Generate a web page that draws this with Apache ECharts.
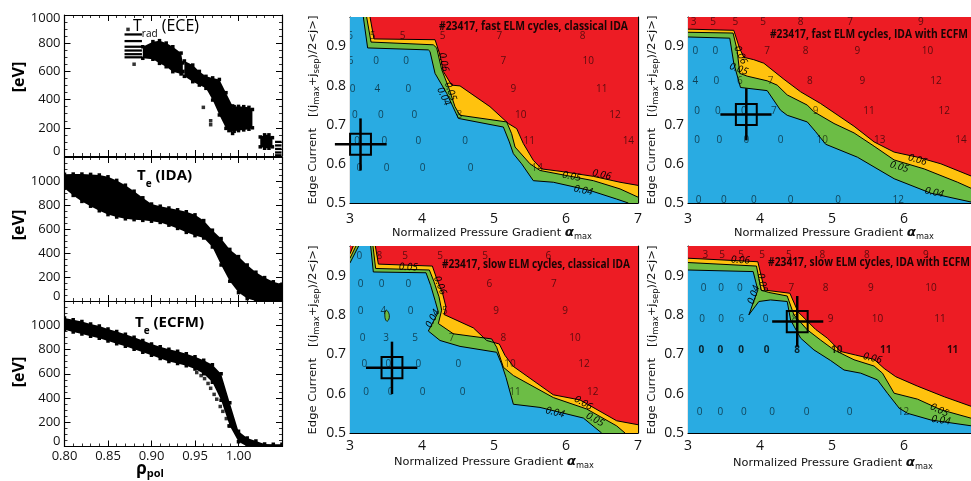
<!DOCTYPE html>
<html><head><meta charset="utf-8">
<script src="https://cdn.jsdelivr.net/npm/echarts@6/dist/echarts.min.js"></script>
<style>html,body{margin:0;padding:0;background:#fff}#c{width:971px;height:481px}</style>
</head><body><div id="c"></div>
<script>
// ================= DATA =================
// Left column: rho_pol grid and envelopes of the dense point clouds (eV)
const rhoGrid = [0.80,0.81,0.82,0.83,0.84,0.85,0.86,0.87,0.88,0.89,0.90,0.91,0.92,0.93,0.94,0.95,0.96,0.97,0.98,0.99,1.00,1.01,1.02,1.03,1.04,1.05];
const idaHi  = [1056,1058,1058,1055,1050,1035,1005,965,915,860,808,790,775,760,744,718,670,590,520,430,370,300,240,195,160,140];
const idaLo  = [940,880,830,790,752,720,700,685,678,672,665,655,632,605,572,545,525,450,300,165,70,20,0,0,0,0];
const ecfmHi = [1060,1045,1030,1010,993,970,948,925,902,875,845,822,803,785,765,740,712,675,600,360,126,70,45,20,18,18];
const ecfmLo = [963,945,927,909,892,870,848,826,802,778,752,725,702,685,665,640,600,530,381,170,40,0,0,0,0,0];
const ecfmTrace = [[0.952,610],[0.957,585],[0.961,560],[0.965,520],[0.968,480],[0.972,430],[0.975,390],[0.979,330],[0.982,290],[0.986,230],[0.989,170]];
// ECE radiation temperature clusters (null separates clusters)
const eceX  = [0.890,0.9016,0.9092,0.9169,0.9245,0.934,0.936,null,0.9378,0.9474,0.955,0.9626,0.9703,0.978,0.9856,0.9932,null,0.989,0.995,1.0,1.006,1.012,1.016,null,1.025,1.03,1.035,1.039];
const eceHi = [775,811,818,801,775,730,660,null,674,645,600,565,554,543,449,355,null,330,350,352,350,345,330,null,135,150,150,130];
const eceLo = [693,686,657,633,598,582,600,null,565,527,503,480,397,291,196,160,null,180,175,180,185,190,200,null,65,55,55,65];
const eceStripeX = [0.869,0.889];
const eceStripeY = [862,815,775,748,722,700];
const eceEdgeX = [1.042,1.0495];
const eceEdgeY = [100,75,50,25,5];
const eceStripeHalf = 8;
const eceDots = [[0.873,898],[0.880,651],[0.9596,345],[0.968,250],[0.968,222],[0.935,588],[0.94,600]];

// Contour panels: contour lines [alpha_max, edge current] for levels 0.06, 0.05, 0.04
const A_c06 = [[3.278,0.975],[3.333,0.919],[4.181,0.917],[4.25,0.878],[4.296,0.836],[4.412,0.801],[4.528,0.799],[4.944,0.746],[5.199,0.703],[5.315,0.690],[5.407,0.652],[5.546,0.609],[5.662,0.587],[5.917,0.581],[6.38,0.568],[6.75,0.553],[7.0,0.545]];
const A_c05 = [[3.231,0.975],[3.292,0.911],[4.157,0.904],[4.204,0.896],[4.273,0.841],[4.366,0.797],[4.458,0.746],[4.528,0.724],[5.176,0.707],[5.245,0.677],[5.292,0.643],[5.5,0.600],[5.639,0.583],[6.01,0.570],[6.38,0.557],[6.75,0.536],[7.0,0.515]];
const A_c04 = [[3.185,0.975],[3.245,0.896],[4.088,0.891],[4.111,0.887],[4.181,0.831],[4.343,0.780],[4.505,0.716],[5.13,0.694],[5.213,0.656],[5.269,0.626],[5.384,0.600],[5.546,0.557],[5.824,0.553],[6.333,0.532],[6.704,0.510],[6.866,0.5]];
const B_c06 = [[3.0,0.944],[3.636,0.941],[3.715,0.896],[3.775,0.872],[3.914,0.866],[4.053,0.857],[4.332,0.816],[4.564,0.784],[4.842,0.754],[5.306,0.696],[5.585,0.656],[5.863,0.630],[6.188,0.617],[6.513,0.600],[6.944,0.568],[7.0,0.565]];
const B_c05 = [[3.0,0.936],[3.626,0.934],[3.682,0.891],[3.719,0.831],[3.821,0.824],[4.10,0.812],[4.239,0.801],[4.378,0.776],[4.657,0.750],[4.749,0.733],[5.028,0.703],[5.306,0.679],[5.585,0.645],[5.863,0.610],[6.281,0.587],[6.745,0.553],[7.0,0.532]];
const B_c04 = [[3.0,0.924],[3.58,0.921],[3.636,0.857],[3.729,0.795],[4.10,0.787],[4.285,0.737],[4.378,0.724],[4.657,0.707],[4.773,0.682],[4.912,0.650],[5.353,0.617],[5.863,0.562],[6.374,0.525],[6.944,0.502],[7.0,0.5]];
const C_c06 = [[3.0,0.955],[3.046,0.975],null,[3.352,0.975],[3.394,0.929],[4.144,0.924],[4.204,0.892],[4.287,0.854],[4.333,0.820],[4.306,0.801],[4.713,0.767],[4.898,0.735],[5.074,0.726],[5.153,0.697],[5.269,0.669],[5.824,0.597],[6.194,0.584],[6.704,0.531],[7.0,0.521]];
const C_c05 = [[3.0,0.944],[3.083,0.975],null,[3.319,0.975],[3.356,0.918],[4.102,0.914],[4.167,0.884],[4.236,0.846],[4.273,0.812],[4.227,0.778],[4.435,0.752],[4.968,0.739],[5.037,0.718],[5.13,0.667],[5.269,0.646],[5.824,0.590],[6.287,0.561],[6.704,0.518],[6.82,0.5]];
const C_c04 = [[3.0,0.932],[3.12,0.975],null,[3.287,0.975],[3.324,0.909],[4.056,0.907],[4.12,0.875],[4.181,0.837],[4.227,0.807],[4.088,0.759],[4.25,0.735],[4.528,0.720],[5.037,0.705],[5.106,0.675],[5.167,0.641],[5.269,0.573],[5.639,0.565],[6.241,0.538],[6.495,0.5]];
const C_island04 = [[3.5,0.812],[3.546,0.799],[3.519,0.784],[3.486,0.793]];
const D_c06 = [[3.0,0.944],[3.970,0.935],[4.063,0.863],[4.415,0.855],[4.527,0.808],[4.773,0.763],[4.935,0.741],[5.121,0.707],[5.329,0.698],[5.585,0.687],[5.724,0.664],[5.886,0.643],[6.188,0.619],[6.559,0.592],[6.944,0.567],[7.0,0.563]];
const D_c05 = [[3.0,0.933],[3.951,0.924],[4.016,0.863],[4.123,0.857],[4.378,0.848],[4.471,0.80],[4.657,0.762],[4.842,0.736],[5.028,0.711],[5.306,0.686],[5.585,0.670],[5.701,0.652],[5.863,0.601],[6.188,0.586],[6.513,0.559],[6.944,0.537],[7.0,0.534]];
const D_c04 = [[3.0,0.914],[3.905,0.910],[3.970,0.863],[3.845,0.800],[3.984,0.834],[4.146,0.838],[4.378,0.834],[4.425,0.787],[4.564,0.741],[4.749,0.711],[4.981,0.684],[5.167,0.660],[5.399,0.652],[5.631,0.635],[5.770,0.601],[5.933,0.563],[6.049,0.550],[6.374,0.533],[6.944,0.518],[7.0,0.517]];

// Numbers printed on the stability grid: [alpha_max, edge current, value]
const A_nums = [[3.0,0.926,'6'],[3.315,0.926,'5'],[3.731,0.926,'5'],[4.287,0.926,'5'],[5.074,0.926,'7'],[6.231,0.926,'8'],
 [3.009,0.861,'6'],[3.361,0.861,'0'],[3.778,0.861,'0'],[5.13,0.861,'7'],[6.31,0.861,'10'],
 [3.037,0.790,'0'],[3.38,0.790,'4'],[3.81,0.790,'0'],[5.27,0.790,'9'],[6.495,0.790,'11'],
 [3.069,0.724,'0'],[3.43,0.724,'0'],[3.894,0.724,'0'],[4.519,0.724,'8'],[5.37,0.724,'10'],[6.68,0.724,'12'],
 [3.10,0.658,'0'],[3.477,0.658,'0'],[3.949,0.658,'0'],[4.597,0.658,'0'],[5.49,0.658,'11'],[6.866,0.658,'14'],
 [3.13,0.589,'0'],[3.509,0.589,'0'],[4.009,0.589,'0'],[4.676,0.589,'0'],[5.60,0.589,'14']];
const B_nums = [[3.079,0.961,'3'],[3.348,0.961,'5'],[3.659,0.961,'5'],[4.044,0.961,'5'],[4.564,0.961,'8'],[5.251,0.961,'7'],[6.234,0.961,'9'],
 [3.102,0.887,'0'],[3.380,0.887,'0'],[4.10,0.887,'7'],[4.633,0.887,'8'],[5.353,0.887,'9'],[6.327,0.887,'10'],
 [3.102,0.810,'4'],[3.394,0.810,'0'],[3.719,0.810,'6'],[4.146,0.810,'7'],[4.694,0.810,'8'],[5.422,0.810,'9'],[6.443,0.810,'12'],
 [3.125,0.735,'0'],[3.413,0.735,'0'],[3.775,0.735,'0'],[4.193,0.735,'7'],[4.773,0.735,'9'],[5.515,0.735,'11'],[6.559,0.735,'12'],
 [3.125,0.660,'0'],[3.436,0.660,'0'],[3.812,0.660,'0'],[4.285,0.660,'0'],[4.865,0.660,'10'],[5.664,0.660,'13'],[6.791,0.660,'14'],
 [3.148,0.508,'0'],[3.497,0.508,'0'],[3.914,0.508,'0'],[4.425,0.508,'0'],[5.084,0.508,'0'],[5.919,0.508,'12']];
const C_nums = [[3.13,0.949,'0'],[3.407,0.949,'8'],[3.764,0.949,'5'],[4.25,0.949,'5'],[4.875,0.949,'5'],[5.755,0.949,'6'],
 [3.148,0.878,'0'],[3.44,0.878,'0'],[3.81,0.878,'0'],[4.935,0.878,'6'],[5.833,0.878,'7'],
 [3.148,0.809,'0'],[3.463,0.809,'4'],[3.843,0.809,'0'],[4.319,0.809,'5'],[5.028,0.809,'9'],[5.986,0.809,'9'],
 [3.176,0.741,'0'],[3.5,0.741,'3'],[3.903,0.741,'5'],[4.412,0.741,'7'],[5.13,0.741,'8'],[6.125,0.741,'10'],
 [3.199,0.674,'0'],[3.532,0.674,'0'],[3.949,0.674,'0'],[4.505,0.674,'0'],[5.222,0.674,'10'],[6.25,0.674,'12'],
 [3.222,0.603,'0'],[3.565,0.603,'0'],[4.009,0.603,'0'],[4.565,0.603,'0'],[5.292,0.603,'11'],[6.37,0.603,'12']];
const D_nums = [[3.241,0.952,'3'],[3.473,0.952,'5'],[3.738,0.952,'5'],[4.03,0.952,'5'],[4.401,0.952,'5'],[4.865,0.952,'8'],[5.483,0.952,'8'],[6.304,0.952,'9'],
 [3.218,0.869,'0'],[3.459,0.869,'0'],[3.719,0.869,'0'],[4.434,0.869,'7'],[4.912,0.869,'8'],[5.538,0.869,'9'],[6.374,0.869,'10'],
 [3.195,0.790,'0'],[3.459,0.790,'0'],[3.742,0.790,'6'],[4.077,0.790,'0'],[4.480,0.790,'8'],[4.981,0.790,'9'],[5.631,0.790,'10'],[6.499,0.790,'11'],
 [3.162,0.552,'0'],[3.45,0.552,'0'],[3.775,0.552,'0'],[4.169,0.552,'0'],[4.647,0.552,'0'],[5.246,0.552,'0'],[5.993,0.552,'12']];
const D_numsBold = [[3.186,0.711,'0'],[3.450,0.711,'0'],[3.738,0.711,'0'],[4.091,0.711,'0'],[4.517,0.711,'8'],[5.065,0.711,'10'],[5.747,0.711,'11'],[6.675,0.711,'11']];

// Contour level labels [alpha, j, level]
const A_lbl = [[4.300,0.860,'0.06'],[4.395,0.785,'0.05'],[4.300,0.772,'0.04'],[6.495,0.572,'0.06'],[6.079,0.568,'0.05'],[6.24,0.532,'0.04']];
const B_lbl = [[3.729,0.878,'0.06'],[3.705,0.842,'0.05'],[6.188,0.610,'0.06'],[5.933,0.592,'0.05'],[6.42,0.527,'0.04']];
const C_lbl = [[3.81,0.921,'0.05'],[4.25,0.875,'0.06'],[4.148,0.79,'0.04'],[6.24,0.576,'0.06'],[6.403,0.534,'0.05'],[5.847,0.552,'0.04']];
const D_lbl = [[3.729,0.939,'0.06'],[3.914,0.851,'0.04'],[4.03,0.882,'0.05'],[5.561,0.690,'0.06'],[6.49,0.558,'0.05'],[6.513,0.532,'0.04']];

// Operational points with uncertainty
const crossAlpha = [3.146, 3.81, 3.583, 4.517];
const crossJ = [0.650, 0.726, 0.666, 0.783];
const crossAlphaErr = [[2.79,3.509],[3.45,4.16],[3.222,3.935],[4.169,4.879]];
const crossJErr = [[0.583,0.716],[0.660,0.793],[0.599,0.732],[0.719,0.848]];
const boxHalf = [0.145, 0.027];

const panelTitles = ['#23417, fast ELM cycles, classical IDA','#23417, fast ELM cycles, IDA with ECFM','#23417, slow ELM cycles, classical IDA','#23417, slow ELM cycles, IDA with ECFM'];

// ================= RENDER =================
const BLUE='#29abe2', GREEN='#6cbd45', YELLOW='#ffc20e', RED='#ed1c24';
const FONT='"Open Sans", "Noto Sans", sans-serif';
const X0=3, X1=7, Y0=0.5, Y1=0.975;
const mctx=document.createElement('canvas').getContext('2d');
function tw(font,text){mctx.font=font;return mctx.measureText(text).width;}

const chart = echarts.init(document.getElementById('c'), null, {width:971, height:481});

const grids = [
  {left:64.5, top:15, width:217.5, height:141},
  {left:64.5, top:157, width:217.5, height:144},
  {left:64.5, top:301, width:217.5, height:145.5},
  {left:350, top:17, width:288, height:186},
  {left:688, top:17, width:288, height:186},
  {left:350, top:246, width:288, height:187},
  {left:688, top:246, width:288, height:187}
].map(g=>Object.assign({containLabel:false, outerBoundsMode:'none'}, g));

const xAxes=[], yAxes=[];
function tickCfg(){return {show:true,inside:true,length:6,lineStyle:{color:'#000',width:1}};}
function minorCfg(n){return {show:true,splitNumber:n,length:3,lineStyle:{color:'#000',width:0.8}};}
function lineCfg(){return {show:true,onZero:false,lineStyle:{color:'#000',width:1.2}};}
const lblBase={fontFamily:FONT,color:'#111'};
// left column
[1000,1200,1200].forEach((ymax,i)=>{
  const xb={gridIndex:i,type:'value',min:0.8,max:1.05,interval:0.05,splitLine:{show:false},axisLine:lineCfg(),axisTick:tickCfg(),minorTick:minorCfg(5)};
  xAxes.push(Object.assign({},xb,{position:'bottom',axisLabel:Object.assign({show:i===2,fontSize:13,margin:3,formatter:v=>v>1.04?'':v.toFixed(2)},lblBase)}));
  xAxes.push(Object.assign({},xb,{position:'top',axisLabel:{show:false}}));
  const yb={gridIndex:i,type:'value',min:0,max:ymax,interval:200,splitLine:{show:false},axisLine:lineCfg(),axisTick:tickCfg(),minorTick:minorCfg(4)};
  const rich={lo:{fontSize:13,fontFamily:FONT,color:'#111',padding:[0,0,10,0]},hi:{fontSize:13,fontFamily:FONT,color:'#111',padding:[6,0,0,0]}};
  yAxes.push(Object.assign({},yb,{position:'left',axisLabel:Object.assign({fontSize:13,margin:4,rich:rich,formatter:v=>{
    if(v===0) return '{lo|0}'; if(v>1000) return ''; if(v===1000&&ymax===1000) return '{hi|1000}'; return String(v);}},lblBase)}));
  yAxes.push(Object.assign({},yb,{position:'right',axisLabel:{show:false}}));
});
// contour panels
[3,4,5,6].forEach((g,k)=>{
  const xb={gridIndex:g,type:'value',min:X0,max:X1,interval:1,splitLine:{show:false},axisLine:lineCfg(),axisTick:tickCfg(),minorTick:minorCfg(10)};
  xAxes.push(Object.assign({},xb,{position:'bottom',axisLabel:Object.assign({fontSize:14,margin:k<2?9:6,formatter:v=>String(Math.round(v))},lblBase)}));
  xAxes.push(Object.assign({},xb,{position:'top',axisLabel:{show:false}}));
  const yb={gridIndex:g,type:'value',min:Y0,max:Y1,interval:0.1,splitLine:{show:false},axisLine:lineCfg(),axisTick:tickCfg(),minorTick:minorCfg(10)};
  yAxes.push(Object.assign({},yb,{position:'left',axisLabel:Object.assign({fontSize:14,margin:4,formatter:v=>v>0.95?'':v.toFixed(1)},lblBase)}));
  yAxes.push(Object.assign({},yb,{position:'right',axisLabel:{show:false}}));
});
// axis index for grid g: bottom x = 2g, left y = 2g

function segments(arr){const out=[];let s=[];arr.forEach(p=>{if(p==null){if(s.length)out.push(s);s=[];}else s.push(p);});if(s.length)out.push(s);return out;}

function bandRender(xs,lo,hi,sq){
  return function(params,api){
    const ch=[];let seg=[];const segs=[];
    for(let k=0;k<xs.length;k++){if(xs[k]==null){if(seg.length)segs.push(seg);seg=[];}else seg.push(k);}
    if(seg.length)segs.push(seg);
    segs.forEach(s=>{
      const top=s.map(k=>api.coord([xs[k],hi[k]]));
      const bot=s.slice().reverse().map(k=>api.coord([xs[k],lo[k]]));
      ch.push({type:'polygon',shape:{points:top.concat(bot)},style:{fill:'#000'}});
      if(sq) top.concat(bot).forEach(p=>ch.push({type:'rect',shape:{x:p[0]-sq/2,y:p[1]-sq/2,width:sq,height:sq},style:{fill:'#000'}}));
    });
    return {type:'group',children:ch};
  };
}
function stripeRender(xr,ys,half){
  return function(params,api){
    return {type:'group',children:ys.map(y=>{
      const a=api.coord([xr[0],y+half]), b=api.coord([xr[1],y-half]);
      return {type:'rect',shape:{x:a[0],y:a[1],width:b[0]-a[0],height:b[1]-a[1]},style:{fill:'#000'}};
    })};
  };
}
function txt(x,y,text,opt){
  const o=Object.assign({fontSize:10,fontFamily:FONT,fontWeight:'normal',fontStyle:'normal',fill:'rgba(0,0,0,0.62)'},opt||{});
  return {type:'text',x:x,y:y,rotation:o.rotation||0,scaleX:o.scaleX||1,
    style:{text:text,x:0,y:0,fill:o.fill,fontSize:o.fontSize,fontFamily:o.fontFamily,fontWeight:o.fontWeight,fontStyle:o.fontStyle,
      align:o.align||'center',verticalAlign:'middle',textAlign:o.align||'center',textVerticalAlign:'middle',rich:o.rich}};
}
function contourRender(P){
  return function(params,api){
    const cs=params.coordSys; const C=p=>api.coord(p); const ch=[];
    ch.push({type:'rect',shape:{x:cs.x,y:cs.y,width:cs.width,height:cs.height},style:{fill:RED}});
    [[P.c06,YELLOW],[P.c05,GREEN],[P.c04,BLUE]].forEach(([curve,col])=>{
      const pts=[[X0,Y1]].concat(curve.filter(p=>p),[[X1,Y0],[X0,Y0]]).map(C);
      ch.push({type:'polygon',shape:{points:pts},style:{fill:col}});
    });
    (P.islands||[]).forEach(isl=>ch.push({type:'polygon',shape:{points:isl.map(C),smooth:0.5},style:{fill:GREEN,stroke:'#000',lineWidth:0.8}}));
    const lv={'0.06':P.c06,'0.05':P.c05,'0.04':P.c04};
    [P.c06,P.c05,P.c04].forEach(curve=>segments(curve).forEach(seg=>ch.push({type:'polyline',shape:{points:seg.map(C)},style:{stroke:'#000',lineWidth:1,fill:'none'}})));
    P.nums.forEach(n=>{const p=C([n[0],n[1]]);ch.push(txt(p[0],p[1],n[2]));});
    (P.bold||[]).forEach(n=>{const p=C([n[0],n[1]]);ch.push(txt(p[0],p[1],n[2],{fontWeight:'bold',fill:'rgba(0,0,0,0.8)',fontSize:10}));});
    P.labels.forEach(l=>{
      const p=C([l[0],l[1]]);
      let best=1e9,ang=0;
      segments(lv[l[2]]).forEach(seg=>{const q=seg.map(C);for(let i=0;i<q.length-1;i++){
        const mx=(q[i][0]+q[i+1][0])/2,my=(q[i][1]+q[i+1][1])/2;const d=(mx-p[0])**2+(my-p[1])**2;
        if(d<best){best=d;ang=Math.atan2(-(q[i+1][1]-q[i][1]),q[i+1][0]-q[i][0]);}}});
      if(ang>Math.PI/2)ang-=Math.PI; if(ang<-Math.PI/2)ang+=Math.PI;
      ch.push(txt(p[0],p[1],l[2],{rotation:ang,fontStyle:'italic',fontSize:10,fill:'#000'}));
    });
    return {type:'group',children:ch};
  };
}
function crossRender(i){
  return function(params,api){
    const a=crossAlpha[i],j=crossJ[i];
    const h1=api.coord([crossAlphaErr[i][0],j]),h2=api.coord([crossAlphaErr[i][1],j]);
    const v1=api.coord([a,crossJErr[i][0]]),v2=api.coord([a,crossJErr[i][1]]);
    const b1=api.coord([a-boxHalf[0],j+boxHalf[1]]),b2=api.coord([a+boxHalf[0],j-boxHalf[1]]);
    return {type:'group',children:[
      {type:'line',shape:{x1:h1[0],y1:h1[1],x2:h2[0],y2:h2[1]},style:{stroke:'#000',lineWidth:2.5}},
      {type:'line',shape:{x1:v1[0],y1:v1[1],x2:v2[0],y2:v2[1]},style:{stroke:'#000',lineWidth:2.5}},
      {type:'rect',shape:{x:b1[0],y:b1[1],width:b2[0]-b1[0],height:b2[1]-b1[1]},style:{fill:'none',stroke:'#000',lineWidth:2}}
    ]};
  };
}

const series=[];
function cust(g,render,clip){series.push({type:'custom',xAxisIndex:2*g,yAxisIndex:2*g,data:[[0,0]],renderItem:render,clip:clip,silent:true,z:2});}
cust(0,bandRender(eceX,eceLo,eceHi,3.5),true);
cust(0,stripeRender(eceStripeX,eceStripeY,eceStripeHalf),true);
cust(0,stripeRender(eceEdgeX,eceEdgeY,eceStripeHalf),true);
series.push({type:'scatter',xAxisIndex:0,yAxisIndex:0,data:eceDots,symbol:'rect',symbolSize:3.5,itemStyle:{color:'#000'},silent:true});
cust(1,bandRender(rhoGrid,idaLo,idaHi,3.5),true);
cust(2,bandRender(rhoGrid,ecfmLo,ecfmHi,3.5),true);
series.push({type:'scatter',xAxisIndex:4,yAxisIndex:4,data:ecfmTrace,symbol:'rect',symbolSize:3.5,itemStyle:{color:'#000'},silent:true});
const P=[
  {c06:A_c06,c05:A_c05,c04:A_c04,nums:A_nums,labels:A_lbl},
  {c06:B_c06,c05:B_c05,c04:B_c04,nums:B_nums,labels:B_lbl},
  {c06:C_c06,c05:C_c05,c04:C_c04,islands:[C_island04],nums:C_nums,labels:C_lbl},
  {c06:D_c06,c05:D_c05,c04:D_c04,nums:D_nums,bold:D_numsBold,labels:D_lbl}
];
P.forEach((p,k)=>cust(3+k,contourRender(p),true));
P.forEach((p,k)=>{series.push({type:'custom',xAxisIndex:2*(3+k),yAxisIndex:2*(3+k),data:[[0,0]],renderItem:crossRender(k),clip:false,silent:true,z:5});});

// ---- text elements ----
const G=[];
function gtext(x,y,text,o){
  G.push({type:'text',x:x,y:y,rotation:o.rotation||0,scaleX:o.scaleX||1,z:10,silent:true,
    style:{text:text,x:0,y:0,fill:o.fill||'#000',font:o.font,rich:o.rich,align:o.align||'center',verticalAlign:'middle'}});
}
// left column titles
gtext(133,26,'{t|T}{s|rad}{t| (ECE)}',{align:'left',rich:{t:{fontSize:16,fontFamily:FONT,lineHeight:26,fill:'#000',color:'#000'},s:{fontSize:10,fontFamily:FONT,lineHeight:10,verticalAlign:'bottom',fill:'#000',color:'#000'}}});
gtext(137,176,'{t|T}{s|e}{t| (IDA)}',{align:'left',rich:{t:{fontSize:15,fontFamily:FONT,fontWeight:'bold',lineHeight:26,fill:'#000',color:'#000'},s:{fontSize:10,fontFamily:FONT,fontWeight:'bold',lineHeight:10,verticalAlign:'bottom',fill:'#000',color:'#000'}}});
gtext(135,323,'{t|T}{s|e}{t| (ECFM)}',{align:'left',rich:{t:{fontSize:15,fontFamily:FONT,fontWeight:'bold',lineHeight:26,fill:'#000',color:'#000'},s:{fontSize:10,fontFamily:FONT,fontWeight:'bold',lineHeight:10,verticalAlign:'bottom',fill:'#000',color:'#000'}}});
[77,225,372].forEach(y=>gtext(19,y,'[eV]',{rotation:Math.PI/2,font:'bold 16px '+FONT}));
gtext(150,469,'{r|ρ}{s|pol}',{rich:{r:{fontSize:17,fontFamily:FONT,fontWeight:'bold',lineHeight:20,fill:'#000',color:'#000'},s:{fontSize:11,fontFamily:FONT,fontWeight:'bold',lineHeight:11,verticalAlign:'bottom',fill:'#000',color:'#000'}}});
// contour titles (condensed)
const TF='bold 12px '+FONT;
const titleLayout=[[628,27,189],[968,35,198],[630,265,188],[970,263,202]];
panelTitles.forEach((t,k)=>{const L=titleLayout[k];gtext(L[0],L[1],t,{align:'right',font:TF,fill:'#1a0505',scaleX:L[2]/tw(TF,t)});});
// contour axis names
const NF='DejaVu Sans, sans-serif';
const xnameW=tw('11px '+NF,'Normalized Pressure Gradient ')+tw('bold italic 13px '+NF,'α')+tw('8px '+NF,'max');
const xRich={n:{fontSize:11,fontFamily:NF,lineHeight:16,fill:'#111',color:'#111'},a:{fontSize:13,fontFamily:NF,fontWeight:'bold',fontStyle:'italic',lineHeight:16,fill:'#111',color:'#111'},s:{fontSize:8,fontFamily:NF,lineHeight:8,verticalAlign:'bottom',fill:'#111',color:'#111'}};
[[492,233],[834,233],[494,462],[833,463]].forEach(p=>gtext(p[0],p[1],'{n|Normalized Pressure Gradient }{a|α}{s|max}',{rich:xRich,scaleX:200/xnameW}));
const ynameW=tw('11px '+NF,'Edge Current   [(j+j)/2<j>]')+tw('8px '+NF,'maxsep');
const yRich={n:{fontSize:11,fontFamily:NF,lineHeight:16,fill:'#111',color:'#111'},s:{fontSize:8,fontFamily:NF,lineHeight:8,verticalAlign:'bottom',fill:'#111',color:'#111'}};
[[313,110],[652,110],[313,340],[652,340]].forEach(p=>gtext(p[0],p[1],'{n|Edge Current   [(j}{s|max}{n|+j}{s|sep}{n|)/2<j>]}',{rich:yRich,rotation:Math.PI/2,scaleX:189/ynameW}));

chart.setOption({animation:false,backgroundColor:'#fff',grid:grids,xAxis:xAxes,yAxis:yAxes,series:series,graphic:{elements:G}});
</script></body></html>
